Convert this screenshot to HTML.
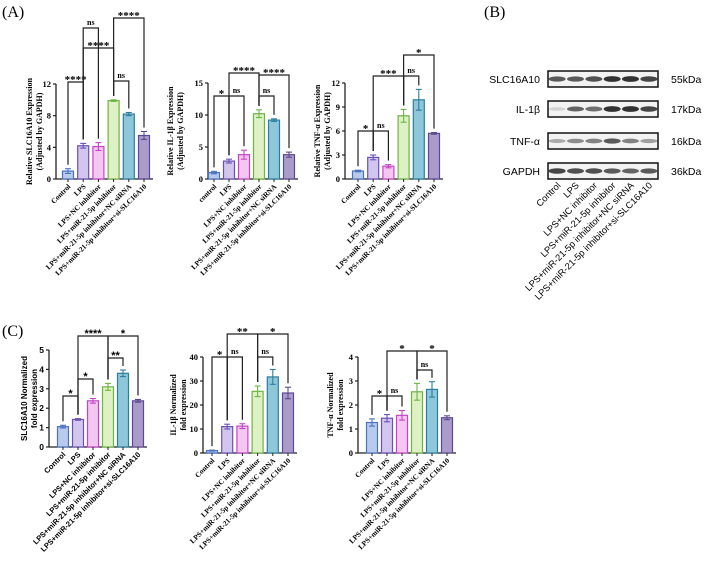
<!DOCTYPE html>
<html><head><meta charset="utf-8"><style>
body{margin:0;background:#fff}
svg{display:block}
text{font-family:"Liberation Serif",serif}
.sans{font-family:"Liberation Sans",sans-serif}
</style></head><body>
<svg id="fig" width="704" height="563" viewBox="0 0 704 563" xmlns="http://www.w3.org/2000/svg">
<text x="2" y="17" font-size="16">(A)</text>
<text x="484" y="17" font-size="16">(B)</text>
<text x="2" y="336" font-size="16">(C)</text>
</svg>
<script>
const groupsA = ["Control","LPS","LPS+NC inhibitor","LPS+miR-21-5p inhibitor","LPS+miR-21-5p inhibitor+NC siRNA","LPS+miR-21-5p inhibitor+si-SLC16A10"];
const groupsA2 = ["control","LPS","LPS+NC inhibitor","LPS+miR-21-5p inhibitor","LPS+miR-21-5p inhibitor+NC siRNA","LPS+miR-21-5p inhibitor+si-SLC16A10"];
const valsA1 = [1.0,4.2,4.1,9.9,8.2,5.5];
const errsA1 = [0.3,0.3,0.5,0.1,0.2,0.5];
const ticksA1 = [0,4,8,12];
const valsA2 = [1.0,2.8,3.8,10.2,9.2,3.8];
const errsA2 = [0.2,0.3,0.7,0.6,0.2,0.4];
const ticksA2 = [0,5,10,15];
const valsA3 = [1.0,2.7,1.6,7.9,9.9,5.7];
const errsA3 = [0.1,0.3,0.2,0.8,1.3,0.1];
const ticksA3 = [0,3,6,9,12];
const valsC1 = [1.05,1.42,2.38,3.1,3.8,2.38];
const errsC1 = [0.07,0.04,0.12,0.18,0.17,0.07];
const ticksC1 = [0,1,2,3,4,5];
const valsC2 = [1,11,11.2,25.7,31.7,25];
const errsC2 = [0.2,1.0,1.0,2.2,3.1,2.4];
const ticksC2 = [0,10,20,30,40];
const valsC3 = [1.27,1.45,1.57,2.55,2.65,1.47];
const errsC3 = [0.15,0.15,0.2,0.35,0.32,0.08];
const ticksC3 = [0,1,2,3,4];
const blotRows = ["SLC16A10","IL-1\u03b2","TNF-\u03b1","GAPDH"];
const blotKDa = ["55kDa","17kDa","16kDa","36kDa"];
const blotIntensity = [[0.75,0.75,0.8,0.95,0.95,0.85],[0.15,0.7,0.65,0.95,0.95,0.85],[0.35,0.5,0.55,0.75,0.55,0.4],[0.85,0.8,0.8,0.75,0.7,0.75]];

const fills=["#b9cbec","#d2c6ee","#f4c6f2","#ddf1c4","#8fc7da","#aa9bcb"];
const strokes=["#4a72c0","#6a50b8","#c444c4","#6cb444","#2c7ea0","#5b4a92"];
const NS="http://www.w3.org/2000/svg";
const svg=document.getElementById('fig');
function mk(tag,attrs,parent){const e=document.createElementNS(NS,tag);for(const k in attrs)e.setAttribute(k,attrs[k]);(parent||svg).appendChild(e);return e;}

function chart(c){
  const g=mk('g',{});
  
  
  const ymax=c.ticks[c.ticks.length-1];
  const Y=v=>c.y0-(v/ymax)*(c.y0-c.ytop);
  const X=i=>c.x1+i*c.step;
  const ax=mk('line',{x1:c.ax,y1:c.ytop,x2:c.ax,y2:c.y0,stroke:'#222','stroke-width':1.3},g);
  
  
  const xa=mk('line',{x1:c.ax,y1:c.y0,x2:X(5)+9,y2:c.y0,stroke:'#222','stroke-width':1.3},g);
  
  
  c.ticks.forEach(t=>{
    mk('line',{x1:c.ax-3,y1:Y(t),x2:c.ax,y2:Y(t),stroke:'#222','stroke-width':1.2},g);
    const tl=mk('text',{x:c.ax-5,y:Y(t)+3,'font-size':8.5,'font-weight':'bold','text-anchor':'end',class:c.sans?'sans':''},g);
    tl.textContent=t;
    
    
  });
  c.vals.forEach((v,i)=>{
    const x=X(i);
    const b=mk('rect',{x:x-5.5,y:Y(v),width:11,height:c.y0-Y(v),fill:fills[i],stroke:strokes[i],'stroke-width':1.2},g);
    
    
    const e=c.errs[i];
    mk('line',{x1:x,y1:Y(v+e),x2:x,y2:Y(v-e),stroke:strokes[i],'stroke-width':1.1},g);
    mk('line',{x1:x-3,y1:Y(v+e),x2:x+3,y2:Y(v+e),stroke:strokes[i],'stroke-width':1.1},g);
    mk('line',{x1:x-3,y1:Y(v-e),x2:x+3,y2:Y(v-e),stroke:strokes[i],'stroke-width':1.1},g);
    mk('line',{x1:x,y1:c.y0,x2:x,y2:c.y0+3,stroke:'#222','stroke-width':1},g);
    const lb=mk('text',{x:x+3,y:c.y0+8,'font-size':c.lfs||7.3,'font-weight':'bold','text-anchor':'end',transform:`rotate(-45 ${x+3} ${c.y0+8})`,class:c.sans?'sans':''},g);
    lb.textContent=c.labels[i];
    
    
  });
  c.br.forEach(b=>{
    const [i,j,s,y]=b;
    const li=Y(c.vals[i]+c.errs[i])-4, lj=Y(c.vals[j]+c.errs[j])-4;
    const p=mk('path',{d:`M${X(i)} ${li}V${y}H${X(j)}V${lj}`,fill:'none',stroke:'#222','stroke-width':1.2},g);
    
    
    const t=mk('text',{x:(X(i)+X(j))/2,y:s==='ns'?y-3:y+1,'font-size':s==='ns'?8:11,'font-weight':'bold','text-anchor':'middle',class:c.sans?'sans':''},g);
    t.textContent=s;
    
    
  });
  const cy=(c.y0+c.ytop)/2;
  c.title.forEach((line,k)=>{
    const tx=c.tx+k*10;
    const t=mk('text',{x:tx,y:cy,'font-size':8,'font-weight':'bold','text-anchor':'middle',transform:`rotate(-90 ${tx} ${cy})`,class:c.sans?'sans':''},g);
    t.textContent=line;
    
    
  });
}

chart({name:'chart-a-slc16a10',ax:56,y0:179,ytop:84,x1:68,step:15.2,ticks:ticksA1,vals:valsA1,errs:errsA1,labels:groupsA,
  br:[[0,1,'****',82],[3,4,'ns',81],[1,3,'****',48],[1,2,'ns',28],[3,5,'****',18]],title:['Relative  SLC16A10 Expression','(Adjusted by GAPDH)'],tx:32});
chart({name:'chart-a-il1b',ax:208,y0:179,ytop:83,x1:214,step:15,ticks:ticksA2,vals:valsA2,errs:errsA2,labels:groupsA2,
  br:[[0,1,'*',96],[1,2,'ns',96],[1,3,'****',73],[3,4,'ns',96],[3,5,'****',75]],title:['Relative IL-1\u03b2 Expression','(Adjusted by GAPDH)'],tx:173});
chart({name:'chart-a-tnfa',ax:345,y0:179,ytop:83,x1:358,step:15.2,ticks:ticksA3,vals:valsA3,errs:errsA3,labels:groupsA,
  br:[[0,1,'*',131],[1,2,'ns',131],[1,3,'***',76],[3,4,'ns',76],[3,5,'*',55]],title:['Relative TNF-\u03b1 Expression','(Adjusted by GAPDH)'],tx:320});
chart({name:'chart-c-slc16a10',ax:49,y0:447,ytop:350,x1:63,step:15,ticks:ticksC1,vals:valsC1,errs:errsC1,labels:groupsA,sans:true,lfs:7.5,
  br:[[0,1,'*',396],[1,2,'*',379],[1,3,'****',336],[3,4,'**',358],[3,5,'*',336]],title:['SLC16A10 Normalized','fold expression'],tx:27});
chart({name:'chart-c-il1b',ax:203,y0:453,ytop:357,x1:212,step:15.2,ticks:ticksC2,vals:valsC2,errs:errsC2,labels:groupsA,
  br:[[0,1,'*',357],[1,2,'ns',357],[3,4,'ns',357],[1,3,'**',334],[3,5,'*',334]],title:['IL-1\u03b2 Normalized','fold expression'],tx:176});
chart({name:'chart-c-tnfa',ax:358,y0:453,ytop:357,x1:372,step:15,ticks:ticksC3,vals:valsC3,errs:errsC3,labels:groupsA,
  br:[[0,1,'*',396],[1,2,'ns',396],[1,3,'*',351],[3,4,'ns',370],[3,5,'*',351]],title:['TNF-\u03b1 Normalized','fold expression'],tx:333});

// western blot
const bg=mk('g',{});


const bx=548,bw=110,rowsY=[71,101,133,163],bh=16;
blotRows.forEach((r,k)=>{
  const y=rowsY[k];
  const box=mk('rect',{x:bx,y:y,width:bw,height:bh,fill:'#f2f2f2',stroke:'#111','stroke-width':1.5},bg);
  
  
  blotIntensity[k].forEach((v,i)=>{
    const cx=bx+(i+0.5)*bw/6;
    const band=mk('ellipse',{cx:cx,cy:y+bh/2,rx:8.5,ry:1.5+v*1.5,fill:'#111','fill-opacity':v*0.9},bg);
    
    
  });
  const t=mk('text',{x:bx-8,y:y+bh/2+4,'font-size':10.5,'text-anchor':'end',class:'sans'},bg);
  t.textContent=r;
  
  
  const kd=mk('text',{x:671,y:y+bh/2+4,'font-size':10.5,class:'sans'},bg);
  kd.textContent=blotKDa[k];
  
  
});
groupsA.forEach((gname,i)=>{
  const cx=bx+(i+0.5)*bw/6+4, cy=186;
  const t=mk('text',{x:cx,y:cy,'font-size':9.3,'text-anchor':'end',transform:`rotate(-45 ${cx} ${cy})`,class:'sans'},bg);
  t.textContent=gname;
  
  
});
</script>
</body></html>
